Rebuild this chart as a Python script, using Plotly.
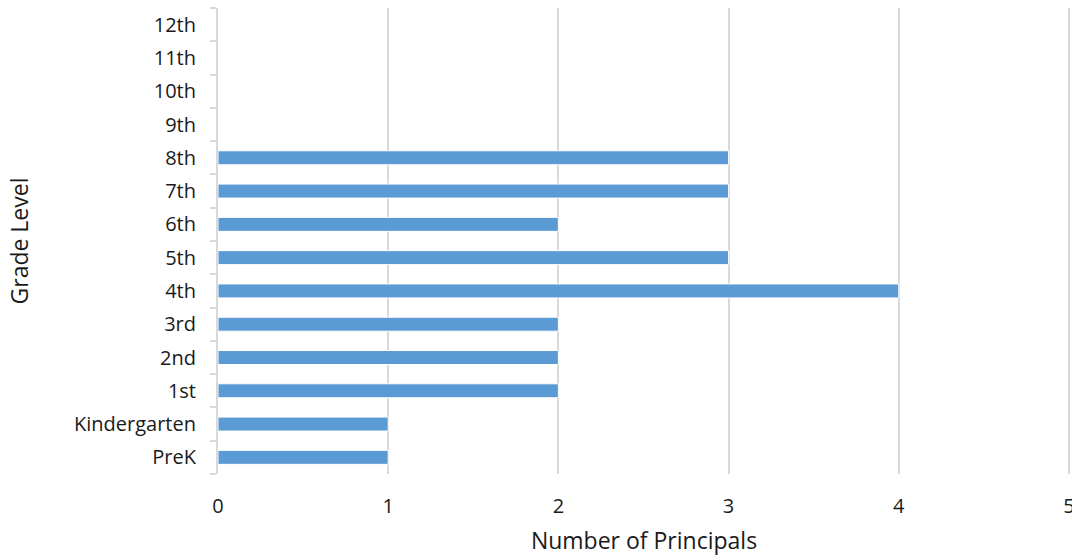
import plotly.graph_objects as go

grades = ["PreK", "Kindergarten", "1st", "2nd", "3rd", "4th", "5th", "6th",
          "7th", "8th", "9th", "10th", "11th", "12th"]
counts = [1, 1, 2, 2, 2, 4, 3, 2, 3, 3, 0, 0, 0, 0]
x_ticks = [0, 1, 2, 3, 4, 5]

FONT = "Open Sans"
fig = go.Figure()
fig.add_trace(go.Bar(
    y=grades, x=counts, orientation="h",
    marker=dict(color="#5b9bd5", line=dict(color="white", width=1)),
    width=0.42,
))
fig.update_layout(
    width=1072, height=556,
    margin=dict(l=218, r=2, t=8, b=82),
    paper_bgcolor="white", plot_bgcolor="white",
    font=dict(family=FONT, size=20, color="#1a1a1a"),
    showlegend=False,
    xaxis=dict(
        range=[0, 5.006], tickvals=x_ticks, showgrid=True, gridcolor="#d9d9d9",
        gridwidth=2, zeroline=False, showline=False, ticks="",
        ticklabelstandoff=18, ticklabeloverflow="allow", automargin=False,
        tickfont=dict(family=FONT, size=20),
        title=dict(text="Number of Principals", standoff=15,
                   font=dict(family=FONT, size=23)),
    ),
    yaxis=dict(
        categoryorder="array", categoryarray=grades,
        showline=True, linecolor="#d9d9d9", linewidth=2,
        ticks="outside", tickson="boundaries", ticklen=6, tickcolor="#d9d9d9",
        tickwidth=2, ticklabelstandoff=16, showgrid=False,
        tickfont=dict(family=FONT, size=20),
        title=dict(text="Grade Level", standoff=39,
                   font=dict(family=FONT, size=23)),
    ),
)
fig.write_html("out.html")
